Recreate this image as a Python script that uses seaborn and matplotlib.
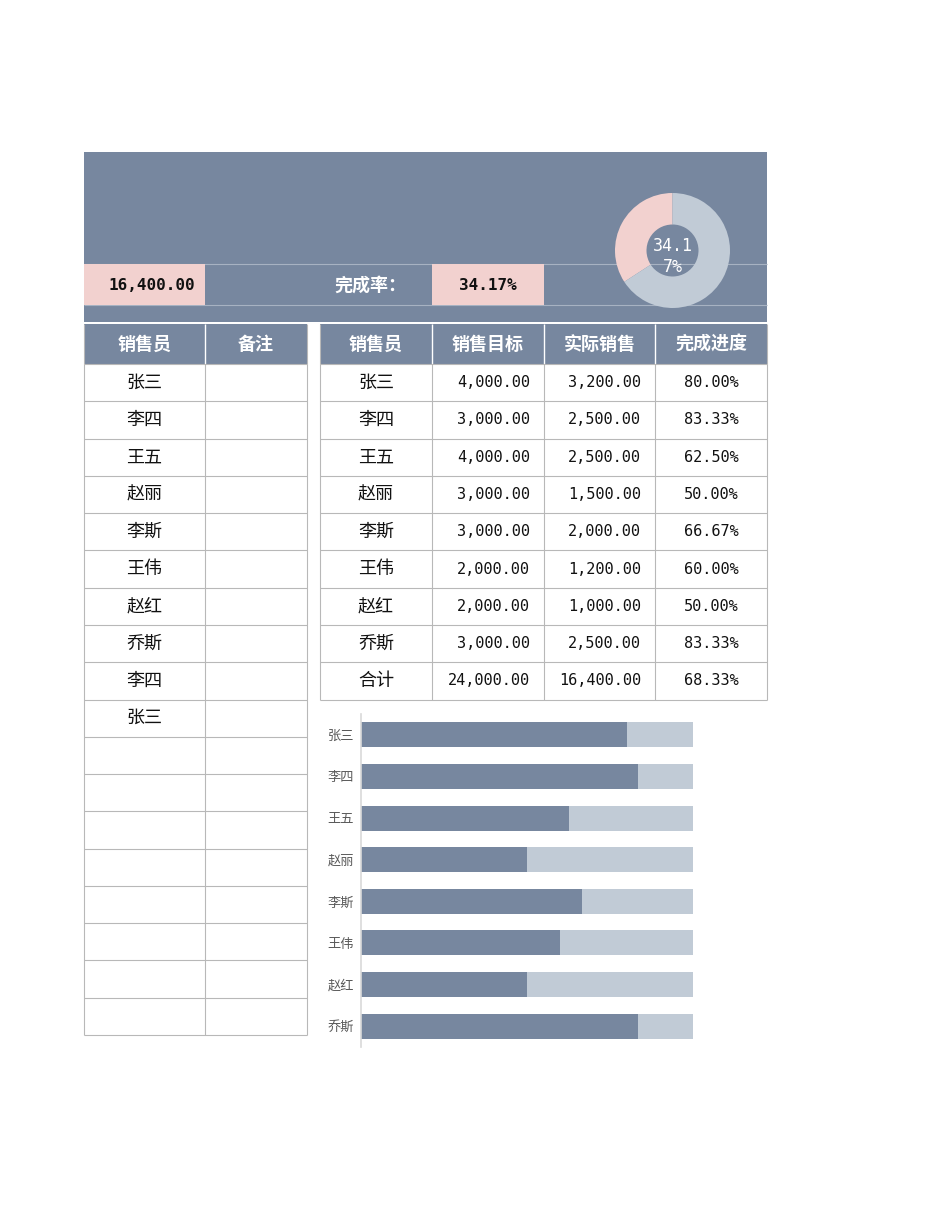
import matplotlib
matplotlib.use("Agg")
import matplotlib.pyplot as plt
import seaborn as sns
import pandas as pd
from matplotlib.patches import Rectangle

# ---------------- data ----------------
names = ["张三", "李四", "王五", "赵丽", "李斯", "王伟", "赵红", "乔斯"]
targets = [4000, 3000, 4000, 3000, 3000, 2000, 2000, 3000]
actuals = [3200, 2500, 2500, 1500, 2000, 1200, 1000, 2500]
progress = [80.00, 83.33, 62.50, 50.00, 66.67, 60.00, 50.00, 83.33]
total_label = "合计"
total_target = 24000
total_actual = 16400
total_progress = 68.33
left_names = ["张三", "李四", "王五", "赵丽", "李斯", "王伟", "赵红", "乔斯", "李四", "张三"]
left_rows = 18
left_headers = ["销售员", "备注"]
right_headers = ["销售员", "销售目标", "实际销售", "完成进度"]
kpi_value = 16400
kpi_label = "完成率："
kpi_rate = 34.17
donut_values = [34.17, 65.83]
donut_text = "34.1\n7%"
bar_full = [100] * len(names)

# ---------------- style ----------------
sns.set_style("white")
plt.rcParams['font.family'] = ['Noto Sans CJK SC', 'DejaVu Sans']
NUMFONT = ['DejaVu Sans Mono', 'Noto Sans CJK SC']

BLUE = "#77879F"
PINK = "#F2D1CF"
LIGHT = "#C1CBD6"
GRID = "#B8B8B8"
TXT = "#111111"

W, H = 950, 1230
fig = plt.figure(figsize=(W / 100, H / 100), dpi=100)
fig.patch.set_facecolor("white")
ax = fig.add_axes([0, 0, 1, 1])
ax.set_xlim(0, W)
ax.set_ylim(H, 0)
ax.axis("off")

def rect(x0, y0, x1, y1, color, z=1):
    ax.add_patch(Rectangle((x0, y0), x1 - x0, y1 - y0, facecolor=color,
                           edgecolor="none", zorder=z))

def hline(y, x0, x1, color, lw=0.8, z=3):
    ax.plot([x0, x1], [y, y], color=color, lw=lw, zorder=z, solid_capstyle="butt")

def vline(x, y0, y1, color, lw=0.8, z=3):
    ax.plot([x, x], [y0, y1], color=color, lw=lw, zorder=z, solid_capstyle="butt")

# ---------------- header block ----------------
rect(84, 152, 767, 322, BLUE)
hline(264, 84, 767, "#A7B2C2", lw=0.8, z=2)
hline(305, 84, 767, "#A7B2C2", lw=0.8, z=2)
rect(84, 264, 205, 305, PINK, z=2.5)
rect(432, 264, 544, 305, PINK, z=2.5)
ax.text(195, 285, f"{kpi_value:,.2f}", ha="right", va="center", fontsize=11.5,
        fontweight="bold", color=TXT, zorder=4, family=NUMFONT)
ax.text(370, 285, kpi_label, ha="center", va="center", fontsize=13,
        fontweight="bold", color="white", zorder=4)
ax.text(488, 285, f"{kpi_rate:.2f}%", ha="center", va="center", fontsize=11.5,
        fontweight="bold", color=TXT, zorder=4, family=NUMFONT)

# ---------------- left table ----------------
lx = [84, 205, 307]
top, hdr_bot = 324, 364
row_h = (1035 - 364) / left_rows
rect(lx[0], top, lx[-1], hdr_bot, BLUE)
for i, h in enumerate(left_headers):
    ax.text((lx[i] + lx[i + 1]) / 2, (top + hdr_bot) / 2, h, ha="center", va="center",
            fontsize=13, fontweight="bold", color="white", zorder=4)
vline(lx[1], top, hdr_bot, "white", lw=1)
lbot = hdr_bot + row_h * left_rows
for r in range(left_rows + 1):
    hline(hdr_bot + r * row_h, lx[0], lx[-1], GRID)
for x in lx:
    vline(x, hdr_bot, lbot, GRID)
vline(lx[0], top, hdr_bot, GRID)
vline(lx[-1], top, hdr_bot, GRID)
for r, n in enumerate(left_names):
    ax.text((lx[0] + lx[1]) / 2, hdr_bot + (r + 0.5) * row_h, n, ha="center",
            va="center", fontsize=13, color=TXT, zorder=4)

# ---------------- right table ----------------
rx = [320, 432, 544, 655, 767]
rect(rx[0], top, rx[-1], hdr_bot, BLUE)
for i, h in enumerate(right_headers):
    ax.text((rx[i] + rx[i + 1]) / 2, (top + hdr_bot) / 2, h, ha="center", va="center",
            fontsize=13, fontweight="bold", color="white", zorder=4)
for x in rx[1:-1]:
    vline(x, top, hdr_bot, "white", lw=1)
nrows = len(names) + 1
rbot = hdr_bot + row_h * nrows
for r in range(nrows + 1):
    hline(hdr_bot + r * row_h, rx[0], rx[-1], GRID)
for x in rx:
    vline(x, hdr_bot, rbot, GRID)
vline(rx[0], top, hdr_bot, GRID)
vline(rx[-1], top, hdr_bot, GRID)
rows = list(zip(names, targets, actuals, progress)) + \
    [(total_label, total_target, total_actual, total_progress)]
for r, (n, t, a, p) in enumerate(rows):
    yc = hdr_bot + (r + 0.5) * row_h
    ax.text((rx[0] + rx[1]) / 2, yc, n, ha="center", va="center", fontsize=13,
            color=TXT, zorder=4)
    ax.text(rx[2] - 14, yc, f"{t:,.2f}", ha="right", va="center", fontsize=11,
            color=TXT, zorder=4, family=NUMFONT)
    ax.text(rx[3] - 14, yc, f"{a:,.2f}", ha="right", va="center", fontsize=11,
            color=TXT, zorder=4, family=NUMFONT)
    ax.text((rx[3] + rx[4]) / 2, yc, f"{p:.2f}%", ha="center", va="center",
            fontsize=11, color=TXT, zorder=4, family=NUMFONT)

# ---------------- donut ----------------
cx, cy, R = 672.5, 250.5, 57.5
dax = fig.add_axes([(cx - R) / W, 1 - (cy + R) / H, 2 * R / W, 2 * R / H])
dax.pie(donut_values, colors=[PINK, LIGHT], startangle=90, counterclock=True,
        radius=1, wedgeprops=dict(width=1 - 26 / 57.5, edgecolor="none"))
dax.set_xlim(-1, 1)
dax.set_ylim(-1, 1)
dax.set_aspect("equal")
dax.axis("off")
dax.text(0, -0.1, donut_text, ha="center", va="center", fontsize=12,
         color="white", linespacing=1.2, family=NUMFONT)

# ---------------- bar chart ----------------
bx0, bx1, by0, by1 = 361, 693, 714, 1047
bax = fig.add_axes([bx0 / W, 1 - by1 / H, (bx1 - bx0) / W, (by1 - by0) / H])
df = pd.DataFrame({"name": names, "progress": progress, "full": bar_full})
sns.barplot(data=df, y="name", x="full", color=LIGHT, saturation=1, width=0.6,
            ax=bax, orient="h", linewidth=0, edgecolor="none")
sns.barplot(data=df, y="name", x="progress", color=BLUE, saturation=1, width=0.6,
            ax=bax, orient="h", linewidth=0, edgecolor="none")
bax.set_xlim(0, 100)
bax.set_ylim(len(names) - 0.5, -0.5)
bax.set_xlabel("")
bax.set_ylabel("")
bax.set_xticks([])
for s in ["top", "right", "bottom"]:
    bax.spines[s].set_visible(False)
bax.spines["left"].set_color("#D9D9D9")
bax.spines["left"].set_linewidth(1.2)
bax.tick_params(axis="y", length=0, pad=5, labelsize=9.5, labelcolor="#595959")
bax.set_facecolor("none")

fig.savefig("out.png", dpi=100, facecolor="white")
